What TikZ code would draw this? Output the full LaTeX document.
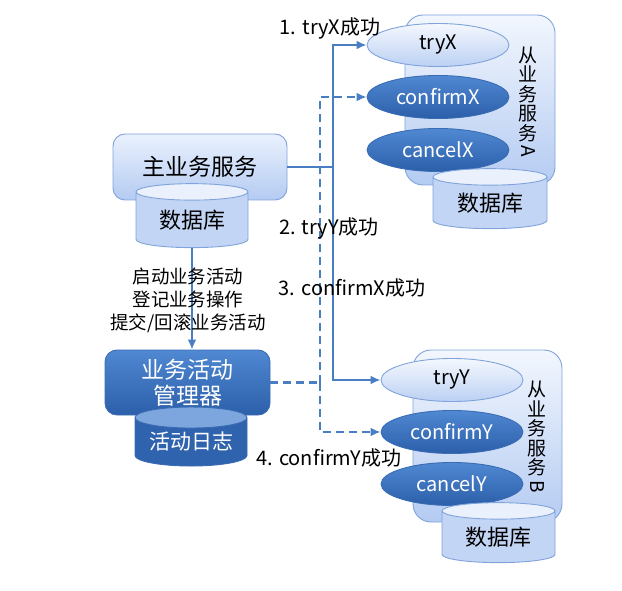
\documentclass[tikz,border=0pt]{standalone}
\usepackage{fontspec}
\setmainfont{Noto Sans CJK SC}
\usetikzlibrary{arrows.meta,shapes.geometric}

\definecolor{lighttop}{HTML}{EAF1FD}
\definecolor{lightbot}{HTML}{B4CBF2}
\definecolor{boxline}{HTML}{7FA3DA}
\definecolor{darktop}{HTML}{5088D2}
\definecolor{darkbot}{HTML}{2C5FAA}
\definecolor{darkline}{HTML}{3A6CB4}
\definecolor{flowblue}{HTML}{4A7EC2}

\begin{document}
\begin{tikzpicture}[x=1pt, y=-1pt, >={Latex[length=10pt,width=9pt]},
    lightbox/.style={draw=boxline, line width=0.9pt, rounded corners=12pt,
        top color=lighttop, bottom color=lightbot, inner sep=0pt},
    darkbox/.style={draw=darkline, line width=0.9pt, rounded corners=12pt,
        top color=darktop, bottom color=darkbot, text=white, inner sep=0pt},
    svcbox/.style={draw=boxline, line width=0.9pt, rounded corners=18pt,
        top color=lighttop!60!white, bottom color=lightbot, inner sep=0pt},
    lightell/.style={ellipse, draw=boxline, line width=0.9pt, inner sep=0pt,
        top color=lighttop!50!white, bottom color=lightbot!90!white,
        minimum width=142pt, minimum height=43pt, font=\fontsize{20}{22}\selectfont},
    darkell/.style={ellipse, draw=darkline, line width=0.9pt, inner sep=0pt, text=white,
        top color=darktop, bottom color=darkbot,
        minimum width=142pt, minimum height=43pt, font=\fontsize{20}{22}\selectfont},
    lightdb/.style={cylinder, shape border rotate=90, aspect=0.25, draw=boxline,
        line width=0.9pt, inner sep=0pt, cylinder uses custom fill,
        cylinder body fill=lightbot!80!white, cylinder end fill=lighttop,
        font=\fontsize{22}{24}\selectfont},
    darkdb/.style={cylinder, shape border rotate=90, aspect=0.25, draw=darkline,
        line width=0.9pt, inner sep=0pt, text=white, cylinder uses custom fill,
        cylinder body fill=darkbot!90!darktop, cylinder end fill=darktop!75!white,
        font=\fontsize{21}{23}\selectfont},
    flow/.style={draw=flowblue, line width=2.6pt},
    ctrl/.style={draw=flowblue, line width=2.6pt, dash pattern=on 8pt off 5pt},
    steplabel/.style={font=\fontsize{20}{22}\selectfont, inner sep=0pt},
    vlabel/.style={font=\fontsize{19}{19.5}\selectfont, align=center, inner sep=0pt}
]
    \useasboundingbox (0,0) rectangle (622,591);

    % 主业务服务 及其数据库
    \node[lightbox, minimum width=174pt, minimum height=66pt, font=\fontsize{23}{25}\selectfont]
        (main) at (200,167) {主业务服务};
    \node[lightdb, minimum width=112pt, minimum height=64pt] (maindb) at (192,220) {数据库};

    % 业务活动管理器 及活动日志
    \node[darkbox, minimum width=165pt, minimum height=65pt, align=center,
        font=\fontsize{23}{26}\selectfont] (mgr) at (187.5,382.5) {业务活动\\管理器};
    \node[darkdb, minimum width=112pt, minimum height=59pt] (log) at (191,442) {活动日志};

    % 从业务服务A
    \node[svcbox, minimum width=150pt, minimum height=170pt] (svcA) at (480,100) {};
    \node[lightell] (tryX) at (438,45) {tryX};
    \node[darkell] (confirmX) at (438,97) {confirmX};
    \node[darkell] (cancelX) at (438,150) {cancelX};
    \node[lightdb, minimum width=114pt, minimum height=60pt] (dbA) at (490,203) {数据库};
    \node[vlabel] (labA) at (528,102) {从\\业\\务\\服\\务\\[-14pt]\rotatebox{-90}{A}};

    % 从业务服务B
    \node[svcbox, minimum width=149pt, minimum height=172pt] (svcB) at (487.5,436) {};
    \node[lightell] (tryY) at (452,380) {tryY};
    \node[darkell] (confirmY) at (452,432) {confirmY};
    \node[darkell] (cancelY) at (452,484) {cancelY};
    \node[lightdb, minimum width=113pt, minimum height=60pt] (dbB) at (498.5,537) {数据库};
    \node[vlabel] (labB) at (537,437) {从\\业\\务\\服\\务\\[-14pt]\rotatebox{-90}{B}};

    % 主服务 -> 管理器
    \draw[flow, ->] (maindb.bottom) -- (maindb.bottom |- mgr.north);
    \node[steplabel, align=center, font=\fontsize{18.5}{23}\selectfont] (calls) at (188,300)
        {启动业务活动\\登记业务操作\\提交/回滚业务活动};

    % try 调用 (实线)
    \coordinate (sx) at (333,167);
    \draw[flow] (main.east) -- (sx);
    \draw[flow, ->] (sx) |- (tryX.west);
    \draw[flow, ->] (sx) |- (tryY.west);

    % confirm 调用 (虚线)
    \coordinate (dx) at (320,382.5);
    \draw[ctrl] (mgr.east) -- (dx);
    \draw[ctrl, ->] (dx) |- (confirmX.west);
    \draw[ctrl, ->] (dx) |- (confirmY.west);

    % 步骤标注
    \node[steplabel] (s1) at (330,28) {1. tryX成功};
    \node[steplabel] (s2) at (329,228) {2. tryY成功};
    \node[steplabel] (s3) at (352,288) {3. confirmX成功};
    \node[steplabel] (s4) at (329,458) {4. confirmY成功};
\end{tikzpicture}
\end{document}
